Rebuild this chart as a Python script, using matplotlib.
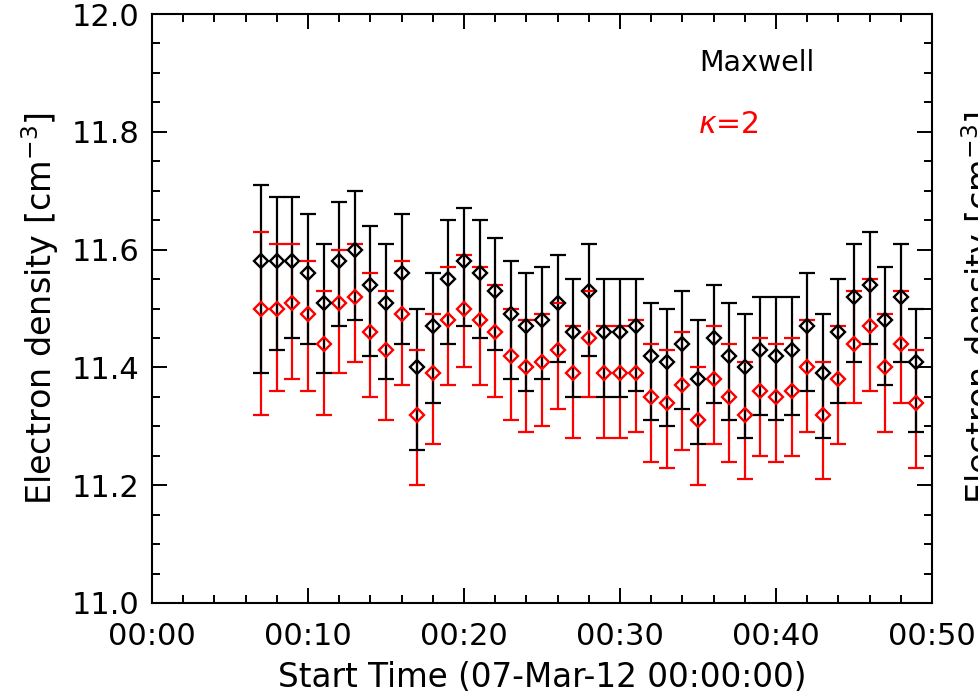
import numpy as np
import matplotlib.pyplot as plt
from matplotlib.ticker import MultipleLocator, FuncFormatter

# minutes after 07-Mar-12 00:00:00
minutes = np.arange(7, 50)

# Maxwell: value, upper end, lower end of the error bar
max_val = [11.58, 11.58, 11.58, 11.56, 11.51, 11.58, 11.60, 11.54, 11.51, 11.56,
           11.40, 11.47, 11.55, 11.58, 11.56, 11.53, 11.49, 11.47, 11.48, 11.51,
           11.46, 11.53, 11.46, 11.46, 11.47, 11.42, 11.41, 11.44, 11.38, 11.45,
           11.42, 11.40, 11.43, 11.42, 11.43, 11.47, 11.39, 11.46, 11.52, 11.54,
           11.48, 11.52, 11.41]
max_hi = [11.71, 11.69, 11.69, 11.66, 11.61, 11.68, 11.70, 11.64, 11.61, 11.66,
          11.50, 11.56, 11.65, 11.67, 11.65, 11.62, 11.58, 11.56, 11.57, 11.59,
          11.55, 11.61, 11.55, 11.55, 11.55, 11.51, 11.50, 11.53, 11.48, 11.54,
          11.51, 11.49, 11.52, 11.52, 11.52, 11.56, 11.49, 11.55, 11.61, 11.63,
          11.57, 11.61, 11.50]
max_lo = [11.39, 11.43, 11.45, 11.44, 11.39, 11.47, 11.48, 11.42, 11.38, 11.44,
          11.26, 11.34, 11.44, 11.47, 11.45, 11.43, 11.38, 11.36, 11.38, 11.41,
          11.35, 11.42, 11.35, 11.35, 11.36, 11.31, 11.30, 11.33, 11.27, 11.34,
          11.31, 11.28, 11.32, 11.31, 11.32, 11.36, 11.28, 11.34, 11.41, 11.44,
          11.37, 11.41, 11.29]

# kappa = 2
k2_val = [11.50, 11.50, 11.51, 11.49, 11.44, 11.51, 11.52, 11.46, 11.43, 11.49,
          11.32, 11.39, 11.48, 11.50, 11.48, 11.46, 11.42, 11.40, 11.41, 11.43,
          11.39, 11.45, 11.39, 11.39, 11.39, 11.35, 11.34, 11.37, 11.31, 11.38,
          11.35, 11.32, 11.36, 11.35, 11.36, 11.40, 11.32, 11.38, 11.44, 11.47,
          11.40, 11.44, 11.34]
k2_hi = [11.63, 11.61, 11.61, 11.58, 11.53, 11.60, 11.61, 11.56, 11.53, 11.58,
         11.43, 11.49, 11.57, 11.59, 11.57, 11.54, 11.50, 11.48, 11.49, 11.51,
         11.47, 11.53, 11.47, 11.47, 11.48, 11.44, 11.43, 11.46, 11.40, 11.47,
         11.44, 11.41, 11.45, 11.44, 11.45, 11.48, 11.41, 11.47, 11.53, 11.55,
         11.49, 11.53, 11.43]
k2_lo = [11.32, 11.36, 11.38, 11.36, 11.32, 11.39, 11.41, 11.35, 11.31, 11.37,
         11.20, 11.27, 11.37, 11.40, 11.37, 11.35, 11.31, 11.29, 11.30, 11.33,
         11.28, 11.35, 11.28, 11.28, 11.29, 11.24, 11.23, 11.26, 11.20, 11.27,
         11.24, 11.21, 11.25, 11.24, 11.25, 11.29, 11.21, 11.27, 11.34, 11.36,
         11.29, 11.34, 11.23]

ylabel = 'Electron density [cm$^{-3}$]'

plt.rcParams['font.family'] = 'DejaVu Sans'
plt.rcParams['mathtext.fontset'] = 'dejavusans'

fig = plt.figure(figsize=(9.79, 6.95), dpi=100)
ax = fig.add_axes([152 / 979, 1 - 603 / 695, 780 / 979, 589 / 695])


def draw(val, hi, lo, color, z):
    val = np.array(val)
    yerr = [val - np.array(lo), np.array(hi) - val]
    line, caps, bars = ax.errorbar(minutes, val, yerr=yerr, fmt='none', ecolor=color,
                                   elinewidth=1.6, capsize=5.5, capthick=1.6)
    for b in bars:
        b.set_zorder(z)
    for c in caps:
        c.set_zorder(z + 2)
    ax.plot(minutes, val, 'D', ms=7, mfc='none', mec=color, mew=1.7, zorder=6 + z)


draw(k2_val, k2_hi, k2_lo, 'red', 2)
draw(max_val, max_hi, max_lo, 'black', 3)

ax.set_xlim(0, 50)
ax.set_ylim(11.0, 12.0)
ax.xaxis.set_major_locator(MultipleLocator(10))
ax.xaxis.set_minor_locator(MultipleLocator(2))
ax.yaxis.set_major_locator(MultipleLocator(0.2))
ax.yaxis.set_minor_locator(MultipleLocator(0.05))
ax.xaxis.set_major_formatter(FuncFormatter(lambda v, p: '00:%02d' % v))
ax.yaxis.set_major_formatter(FuncFormatter(lambda v, p: '%.1f' % v))
ax.tick_params(which='both', direction='in', top=True, right=True, width=1.4)
ax.tick_params(which='major', length=11, labelsize=22)
ax.tick_params(which='minor', length=5.5)
ax.tick_params(axis='x', pad=14)
ax.tick_params(axis='y', pad=9)
for s in ax.spines.values():
    s.set_linewidth(1.5)

ax.set_xlabel('Start Time (07-Mar-12 00:00:00)', fontsize=23.5, labelpad=7)
ax.set_ylabel(ylabel, fontsize=24, labelpad=8)

ax.text(35.1, 11.917, 'Maxwell', color='black', fontsize=20.5, va='center', ha='left')
ax.text(35.0, 11.812, r'$\kappa$=2', color='red', fontsize=21.5, va='center', ha='left')

# y label of the neighbouring panel, cut off at the right edge
fig.text(959 / 979, 1 - 308 / 695, ylabel, rotation=90,
         fontsize=24, ha='left', va='center')

fig.savefig('out.png', dpi=100)
